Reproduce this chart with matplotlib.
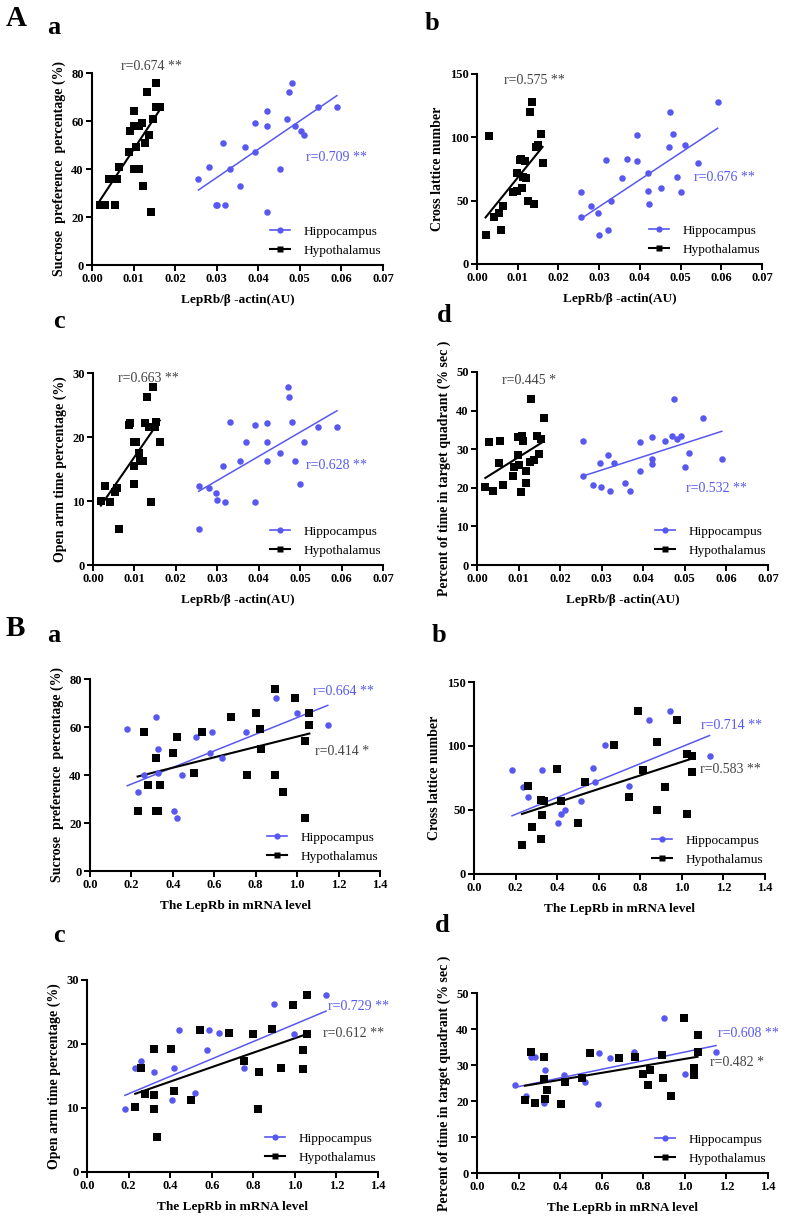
import numpy as np
import matplotlib
matplotlib.use("Agg")
import matplotlib.pyplot as plt
from matplotlib.lines import Line2D

plt.rcParams["font.family"] = ["Liberation Serif", "DejaVu Serif"]

BLUE = "#5858f0"
BLACK = "#000000"
GREY = "#444444"

# ---------------- data ----------------
# A: LepRb/beta-actin protein
aa_hip_x = [0.0256, 0.0282, 0.0298, 0.0300, 0.0320, 0.0316, 0.0331, 0.0356, 0.0369, 0.0393, 0.0393, 0.0421,
            0.0421, 0.0421, 0.0453, 0.0470, 0.0474, 0.0481, 0.0489, 0.0502, 0.0511, 0.0543, 0.0589]
aa_hip_y = [36, 41, 25, 25, 25, 51, 40, 33, 49, 59, 47, 64, 58, 22, 40, 61, 72, 76, 58, 56, 54, 66, 66]
aa_hyp_x = [0.0019, 0.0031, 0.0055, 0.0042, 0.0059, 0.0065, 0.0090, 0.0092, 0.0102, 0.0100, 0.0112, 0.0120,
            0.0106, 0.0102, 0.0112, 0.0122, 0.0128, 0.0132, 0.0137, 0.0142, 0.0147, 0.0155, 0.0153, 0.0163]
aa_hyp_y = [25, 25, 25, 36, 36, 41, 47, 56, 64, 58, 58, 59, 49, 40, 40, 33, 51, 72, 54, 22, 61, 76, 66, 66]

ab_hip_x = [0.0255, 0.0255, 0.0280, 0.0298, 0.0300, 0.0316, 0.0321, 0.0330, 0.0356, 0.0369, 0.0392, 0.0393,
            0.0421, 0.0421, 0.0422, 0.0452, 0.0471, 0.0474, 0.0481, 0.0490, 0.0501, 0.0511, 0.0544, 0.0591]
ab_hip_y = [57, 37, 46, 40, 23, 82, 27, 50, 68, 83, 81, 102, 72, 58, 47, 60, 92, 120, 103, 69, 57, 94, 80, 128]
ab_hyp_x = [0.0021, 0.0030, 0.0041, 0.0053, 0.0059, 0.0064, 0.0088, 0.0099, 0.0099, 0.0105, 0.0108, 0.0111,
            0.0112, 0.0119, 0.0120, 0.0126, 0.0130, 0.0135, 0.0141, 0.0146, 0.0151, 0.0156, 0.0161]
ab_hyp_y = [23, 101, 37, 40, 27, 46, 57, 58, 72, 82, 83, 60, 69, 81, 68, 50, 120, 128, 47, 92, 94, 103, 80]

ac_hip_x = [0.0255, 0.0255, 0.0281, 0.0297, 0.0299, 0.0319, 0.0315, 0.0330, 0.0354, 0.0370, 0.0392, 0.0392,
            0.0420, 0.0420, 0.0420, 0.0452, 0.0470, 0.0474, 0.0480, 0.0488, 0.0500, 0.0510, 0.0543, 0.0589]
ac_hip_y = [12.4, 5.6, 12.1, 11.3, 10.2, 9.8, 15.5, 22.3, 16.3, 19.2, 21.8, 9.8, 22.2, 19.2, 16.2, 17.5,
            27.8, 26.2, 22.3, 16.3, 12.6, 19.2, 21.5, 21.6]
ac_hyp_x = [0.0019, 0.0030, 0.0040, 0.0054, 0.0058, 0.0063, 0.0088, 0.0089, 0.0098, 0.0104, 0.0100, 0.0100,
            0.0110, 0.0113, 0.0121, 0.0126, 0.0130, 0.0136, 0.0140, 0.0146, 0.0150, 0.0153, 0.0161]
ac_hyp_y = [10.0, 12.3, 9.8, 11.4, 12.1, 5.6, 21.8, 22.2, 19.2, 19.2, 15.5, 12.6, 17.5, 16.3, 16.2, 22.2,
            26.2, 21.5, 9.8, 27.8, 21.6, 22.3, 19.2]

ad_hip_x = [0.0254, 0.0254, 0.0280, 0.0296, 0.0298, 0.0315, 0.0319, 0.0330, 0.0355, 0.0369, 0.0391, 0.0391,
            0.0420, 0.0420, 0.0420, 0.0452, 0.0469, 0.0473, 0.0480, 0.0490, 0.0500, 0.0510, 0.0543, 0.0589]
ad_hip_y = [32.2, 23.1, 20.6, 26.3, 20.2, 28.6, 19.3, 26.4, 21.3, 19.1, 31.8, 24.4, 33.2, 27.4, 26.1, 32.2,
            33.5, 43.0, 32.6, 33.5, 25.4, 29.0, 38.2, 27.4]
ad_hyp_x = [0.0020, 0.0028, 0.0039, 0.0056, 0.0052, 0.0062, 0.0086, 0.0089, 0.0098, 0.0099, 0.0101, 0.0105,
            0.0109, 0.0110, 0.0119, 0.0119, 0.0127, 0.0131, 0.0138, 0.0145, 0.0150, 0.0154, 0.0160]
ad_hyp_y = [20.1, 31.8, 19.3, 32.2, 26.3, 20.6, 23.1, 25.4, 33.2, 28.5, 26.0, 19.0, 33.5, 32.2, 24.4, 21.3,
            26.6, 43.0, 27.3, 33.5, 28.8, 32.6, 38.2]

# B: LepRb mRNA
ba_hip_x = [0.180, 0.233, 0.260, 0.321, 0.326, 0.326, 0.404, 0.421, 0.443, 0.514, 0.578, 0.589, 0.639,
            0.754, 0.899, 0.998, 1.148]
ba_hip_y = [59, 33, 40, 64, 51, 41, 25, 22, 40, 56, 49, 58, 47, 58, 72, 66, 61]
ba_hyp_x = [0.230, 0.262, 0.278, 0.321, 0.321, 0.327, 0.337, 0.401, 0.422, 0.502, 0.543, 0.681, 0.758,
            0.799, 0.820, 0.825, 0.891, 0.894, 0.931, 0.989, 1.039, 1.039, 1.059, 1.059]
ba_hyp_y = [25, 58, 36, 47, 25, 25, 36, 49, 56, 41, 58, 64, 40, 66, 59, 51, 76, 40, 33, 72, 54, 22, 66, 61]

bb_hip_x = [0.183, 0.234, 0.262, 0.326, 0.403, 0.417, 0.438, 0.515, 0.571, 0.583, 0.631, 0.745, 0.841,
            0.941, 1.133]
bb_hip_y = [81, 68, 60, 81, 40, 47, 50, 57, 83, 72, 101, 69, 120, 127, 92]
bb_hyp_x = [0.231, 0.262, 0.279, 0.321, 0.321, 0.326, 0.337, 0.401, 0.417, 0.499, 0.536, 0.674, 0.746,
            0.790, 0.815, 0.880, 0.881, 0.921, 0.976, 1.026, 1.027, 1.047, 1.047]
bb_hyp_y = [23, 69, 37, 58, 27, 46, 57, 82, 57, 40, 72, 101, 60, 127, 81, 103, 50, 68, 120, 94, 47, 92, 80]

bc_hip_x = [0.182, 0.233, 0.260, 0.323, 0.407, 0.420, 0.442, 0.519, 0.577, 0.588, 0.637, 0.756, 0.900,
            0.997, 1.150]
bc_hip_y = [9.8, 16.2, 17.4, 15.6, 11.3, 16.2, 22.2, 12.4, 19.1, 22.2, 21.7, 16.3, 26.2, 21.5, 27.7]
bc_hyp_x = [0.232, 0.260, 0.278, 0.322, 0.323, 0.322, 0.338, 0.402, 0.420, 0.502, 0.543, 0.682, 0.756,
            0.801, 0.822, 0.828, 0.892, 0.932, 0.990, 1.040, 1.040, 1.059, 1.059]
bc_hyp_y = [10.1, 16.3, 12.2, 19.2, 12.1, 9.8, 5.5, 19.2, 12.6, 11.3, 22.2, 21.7, 17.4, 21.5, 9.8, 15.6,
            22.3, 16.2, 26.1, 19.1, 16.1, 27.7, 21.5]

bd_hip_x = [0.182, 0.235, 0.260, 0.281, 0.323, 0.326, 0.420, 0.519, 0.580, 0.588, 0.640, 0.757, 0.900,
            1.000, 1.150]
bd_hip_y = [24.4, 21.5, 32.3, 32.3, 19.4, 28.6, 27.2, 25.4, 19.2, 33.3, 31.9, 33.6, 43.1, 27.5, 33.6]
bd_hyp_x = [0.230, 0.262, 0.280, 0.322, 0.322, 0.326, 0.339, 0.402, 0.424, 0.503, 0.543, 0.685, 0.760,
            0.801, 0.830, 0.822, 0.892, 0.897, 0.932, 0.994, 1.042, 1.042, 1.061, 1.061]
bd_hyp_y = [20.3, 33.6, 19.4, 32.3, 26.1, 20.6, 23.1, 19.2, 25.4, 26.3, 33.3, 31.9, 32.3, 27.5, 28.6, 24.4,
            32.7, 26.3, 21.5, 43.1, 29.1, 27.3, 38.4, 33.6]

# regression lines as printed (slope, intercept), panels A a-d then B a-d
fit_hip = [(1181, 1.0), (2128, -18.6), (377, 1.9), (347, 14.2),
           (34.6, 29.3), (66.0, 33.4), (13.6, 9.5), (12.0, 21.6)]
fit_hyp = [(2621, 21.9), (3978, 28.4), (937, 7.5), (674, 21.2),
           (21.6, 34.4), (52.9, 34.7), (11.3, 9.6), (9.7, 22.0)]

# r-value labels
r_hip = ["r=0.709 **", "r=0.676 **", "r=0.628 **", "r=0.532 **",
         "r=0.664 **", "r=0.714 **", "r=0.729 **", "r=0.608 **"]
r_hyp = ["r=0.674 **", "r=0.575 **", "r=0.663 **", "r=0.445 *",
         "r=0.414 *", "r=0.583 **", "r=0.612 **", "r=0.482 *"]

ylabels = ["Sucrose  preference  percentage (%)", "Cross lattice number",
           "Open arm time percentage (%)", "Percent of time in target quadrant (% sec )"]
xlabel_a = "LepRb/\u03b2 -actin(AU)"
xlabel_b = "The LepRb in mRNA level"
yticks = [[0, 20, 40, 60, 80], [0, 50, 100, 150], [0, 10, 20, 30], [0, 10, 20, 30, 40, 50]]
xticks_a = [0.00, 0.01, 0.02, 0.03, 0.04, 0.05, 0.06, 0.07]
xticks_b = [0.0, 0.2, 0.4, 0.6, 0.8, 1.0, 1.2, 1.4]

# ---------------- layout (pixels: left, top, right, bottom) ----------------
W, H = 787, 1221
boxes = [(92, 73, 383, 265), (477, 74, 762, 264), (93, 373, 383, 565), (477, 372, 768, 565),
         (90, 679, 380, 871), (474, 682, 765, 874), (87, 980, 378, 1172), (477, 993, 768, 1173)]
# r-label positions in data units
rpos_hip = [(0.0588, 44.8), (0.0608, 68.3), (0.0587, 15.5), (0.0575, 19.8),
            (1.223, 74.7), (1.241, 115.7), (1.307, 25.9), (1.307, 38.7)]
rpos_hyp = [(0.0144, 82.9), (0.0142, 144.5), (0.0134, 29.1), (0.0125, 47.8),
            (1.215, 49.7), (1.233, 81.9), (1.283, 21.6), (1.251, 30.6)]
letters = [("A", 16, 18, 21), ("a", 54, 27, 19), ("b", 432, 24, 19), ("c", 59, 321, 19), ("d", 444, 316, 19),
           ("B", 15, 628, 21), ("a", 54, 635, 19), ("b", 439, 636, 19), ("c", 59, 935, 19), ("d", 442, 926, 19)]

panels = [
    (aa_hip_x, aa_hip_y, aa_hyp_x, aa_hyp_y),
    (ab_hip_x, ab_hip_y, ab_hyp_x, ab_hyp_y),
    (ac_hip_x, ac_hip_y, ac_hyp_x, ac_hyp_y),
    (ad_hip_x, ad_hip_y, ad_hyp_x, ad_hyp_y),
    (ba_hip_x, ba_hip_y, ba_hyp_x, ba_hyp_y),
    (bb_hip_x, bb_hip_y, bb_hyp_x, bb_hyp_y),
    (bc_hip_x, bc_hip_y, bc_hyp_x, bc_hyp_y),
    (bd_hip_x, bd_hip_y, bd_hyp_x, bd_hyp_y),
]

fig = plt.figure(figsize=(W / 100, H / 100), dpi=100)


def fit_line(ax, x, slope, icpt, color, lw):
    xs = np.array([min(x), max(x)])
    ax.plot(xs, slope * xs + icpt, color=color, lw=lw, zorder=2)


for i, (hx, hy, tx, ty) in enumerate(panels):
    l, t, r, b = boxes[i]
    ax = fig.add_axes([l / W, 1 - b / H, (r - l) / W, (b - t) / H])
    is_a = i < 4
    k = i % 4

    ax.scatter(hx, hy, s=22, marker="o", color=BLUE, linewidths=0, zorder=3, clip_on=False)
    ax.scatter(tx, ty, s=26, marker="s", color=BLACK, linewidths=0, zorder=3, clip_on=False)
    fit_line(ax, hx, *fit_hip[i], BLUE, 1.1)
    fit_line(ax, tx, *fit_hyp[i], BLACK, 1.5)

    ax.text(*rpos_hip[i], r_hip[i], color=BLUE, fontsize=10, ha="center", va="center")
    ax.text(*rpos_hyp[i], r_hyp[i], color=GREY, fontsize=10, ha="center", va="center", clip_on=False)

    xt = xticks_a if is_a else xticks_b
    ax.set_xlim(xt[0], xt[-1])
    ax.set_xticks(xt)
    ax.set_xticklabels([f"{v:.2f}" if is_a else f"{v:.1f}" for v in xt])
    ax.set_ylim(yticks[k][0], yticks[k][-1])
    ax.set_yticks(yticks[k])
    ax.set_xlabel(xlabel_a if is_a else xlabel_b, fontsize=9.5, fontweight="bold", labelpad=6)
    ax.set_ylabel(ylabels[k], fontsize=10, fontweight="bold", labelpad=4)

    for s in ("top", "right"):
        ax.spines[s].set_visible(False)
    for s in ("left", "bottom"):
        ax.spines[s].set_linewidth(1.5)
    ax.tick_params(direction="out", length=4, width=1.4, labelsize=9, pad=2)
    for lab in ax.get_xticklabels() + ax.get_yticklabels():
        lab.set_fontweight("bold")

    handles = [Line2D([], [], color=BLUE, lw=1.2, marker="o", ms=4.5, mec="none"),
               Line2D([], [], color=BLACK, lw=1.5, marker="s", ms=4.5, mec="none")]
    ax.legend(handles, ["Hippocampus", "Hypothalamus"], loc="lower right",
              bbox_to_anchor=(1.02, 0.0), frameon=False, fontsize=9.5,
              handlelength=1.5, handletextpad=1.0, labelspacing=0.55, borderaxespad=0.2)

for txt, x, y, fs in letters:
    fig.text(x / W, 1 - y / H, txt, fontsize=fs, fontweight="bold", ha="center", va="center")

fig.savefig("out.png", dpi=100)
